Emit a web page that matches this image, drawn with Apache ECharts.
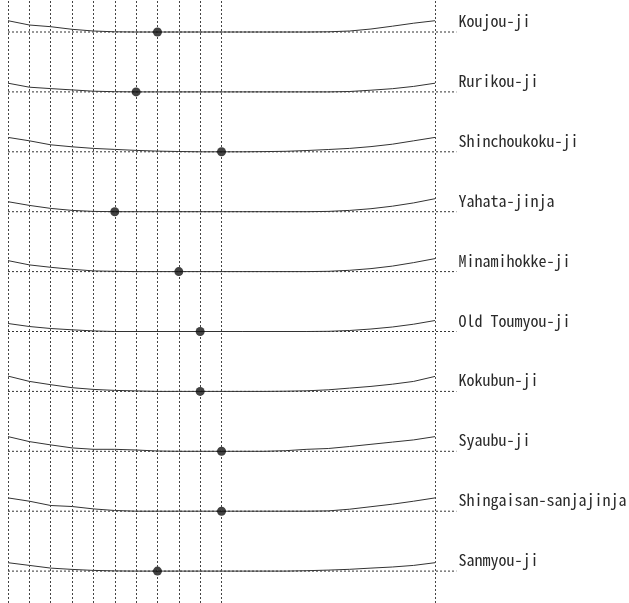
<!DOCTYPE html>
<html>
<head>
<meta charset="utf-8">
<script src="https://cdn.jsdelivr.net/npm/echarts@6/dist/echarts.min.js"></script>
<style>
    html, body {margin: 0; padding: 0; background: #fff;}
    #profileChart {width: 629px; height: 603px;}
</style>
</head>
<body>
<div id="profileChart"></div>
<script>
var siteNames = ['Koujou-ji', 'Rurikou-ji', 'Shinchoukoku-ji', 'Yahata-jinja', 'Minamihokke-ji',
    'Old Toumyou-ji', 'Kokubun-ji', 'Syaubu-ji', 'Shingaisan-sanjajinja', 'Sanmyou-ji'];
// position of the black dot on each row
var dotPos = [7, 6, 10, 5, 8, 9, 9, 10, 10, 7];
// vertical guide lines
var gridTicks = [0, 1, 2, 3, 4, 5, 6, 7, 8, 9, 10, 20];
var curveX = [0, 1, 2, 3, 4, 5, 6, 7, 8, 9, 10, 11, 12, 13, 14, 15, 16, 17, 18, 19, 20];
// height of each profile above its baseline
var koujou = [11.3, 7, 5.3, 2.7, 1, 0.2, 0, 0, 0, 0, 0, 0, 0, 0, 0, 0.2, 1, 3, 5.8, 8.8, 11.3];
var rurikou = [8.7, 4.7, 3.3, 2, 0.7, 0.2, 0, 0, 0, 0, 0, 0, 0, 0, 0, 0, 0.4, 1.7, 3.2, 5.5, 8.7];
var shinchoukoku = [14.4, 11, 7, 5, 3.4, 2.4, 1.4, 0.7, 0.3, 0, 0, 0, 0.2, 0.5, 1.3, 2.3, 3.4, 5.2, 7.6, 11, 14.4];
var yahata = [10, 6.3, 3.3, 1.3, 0.3, 0, 0, 0, 0, 0, 0, 0, 0, 0, 0, 0.3, 1.3, 3, 5.5, 8.8, 13];
var minamihokke = [11, 6.7, 4.3, 2.3, 0.7, 0.3, 0, 0, 0, 0, 0, 0, 0, 0, 0, 0.3, 1.3, 3, 5.5, 9, 13];
var oldToumyou = [8, 5, 3, 1.7, 0.6, 0, 0, 0, 0, 0, 0, 0, 0, 0, 0, 0.2, 1, 2.5, 4.5, 7.3, 11];
var kokubun = [15.3, 10, 6.7, 3.7, 2, 1, 0.5, 0, 0, 0, 0, 0, 0, 0.2, 0.6, 1.6, 3.3, 5, 7.2, 10, 15];
var syaubu = [14.7, 9.7, 6.4, 3.4, 2, 2, 1.3, 0.3, 0, 0, 0, 0, 0, 0.6, 2, 2.8, 4.8, 7, 9.2, 11.4, 14.7];
var shingaisan = [13.3, 10, 5.7, 4.7, 2.3, 0.7, 0, 0, 0, 0, 0, 0, 0, 0, 0, 0.3, 2, 4.5, 7, 10, 13.3];
var sanmyou = [8.4, 5.7, 3, 1.7, 0.7, 0.2, 0, 0, 0, 0, 0, 0, 0, 0, 0.4, 1, 1.8, 3, 4.1, 5.7, 8.4];
var profiles = [koujou, rurikou, shinchoukoku, yahata, minamihokke, oldToumyou, kokubun, syaubu, shingaisan, sanmyou];

var ROW_GAP = 59.9;

var profileChart = echarts.init(document.getElementById('profileChart'));
drawProfileChart();

function drawProfileChart() {
    var series = [];
    profiles.forEach(function (heights, i) {
        var base = -i * ROW_GAP;
        // dotted baseline + name
        var baseLine = {
            name: siteNames[i],
            type: 'line',
            data: [[0, base], [21, base]],
            symbol: 'none',
            silent: true,
            z: 1,
            lineStyle: {color: '#333', width: 1, type: [2, 2]},
            endLabel: {
                show: true,
                formatter: '{a}',
                distance: 2,
                offset: [0, -11],
                color: '#2a2a2a',
                fontSize: 16,
                fontFamily: '"Noto Sans Mono CJK JP", "Liberation Mono", monospace'
            }
        };
        if (i == 0) {
            baseLine.markLine = {
                silent: true,
                symbol: 'none',
                label: {show: false},
                lineStyle: {color: '#444', width: 1, type: [2, 2]},
                data: gridTicks.map(function (t) { return {xAxis: t}; })
            };
        }
        series.push(baseLine);
        series.push({
            type: 'line',
            data: curveX.map(function (x, k) { return [x, base + heights[k]]; }),
            symbol: 'none',
            silent: true,
            z: 2,
            lineStyle: {color: '#333', width: 1}
        });
        series.push({
            type: 'scatter',
            data: [[dotPos[i], base]],
            symbol: 'circle',
            symbolSize: 9,
            silent: true,
            z: 3,
            itemStyle: {color: '#111'}
        });
    });

    var option = {
        animation: false,
        grid: {left: 8, right: 172.6, top: 0, bottom: 0},
        xAxis: {type: 'value', min: 0, max: 21, show: false},
        yAxis: {type: 'value', min: -571, max: 32, show: false},
        series: series
    };
    profileChart.setOption(option);
}
</script>
</body>
</html>
